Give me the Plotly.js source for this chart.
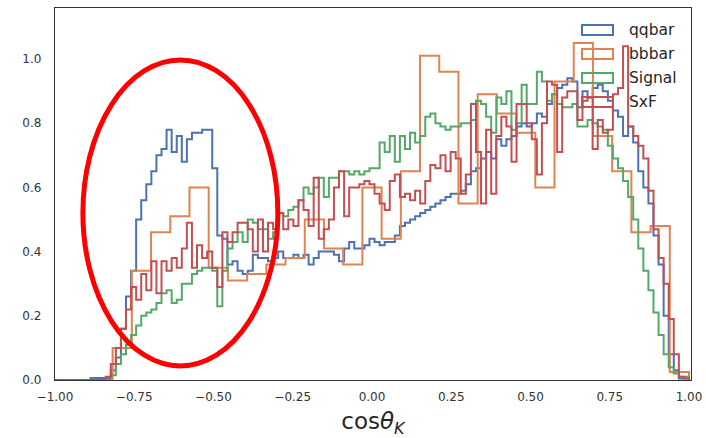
<!DOCTYPE html>
<html><head><meta charset="utf-8">
<script src="https://cdn.plot.ly/plotly-3.0.1.min.js"></script>
<style>html,body{margin:0;padding:0;background:#fff;}#chart{width:706px;height:438px;}</style>
</head><body><div id="chart"></div>
<script>
// ---- data (bin heights, normalized) ----
const seriesNames = ['qqbar', 'bbbar', 'Signal', 'SxF'];
const fineRange = [-1, 1];   // 125 bins for qqbar / Signal / SxF
const coarseRange = [-1, 1]; // 33 bins for bbbar

const qqbar = [
  0,0,0,0,0,0,0,
  0.006,0.006,0.006,0.006,
  0.03,0.07,0.16,0.26,0.34,0.50,0.56,0.61,0.65,0.70,
  0.72,0.78,0.71,0.76,0.68,0.75,0.77,0.77,0.78,0.78,
  0.66,0.45,0.44,0.36,0.37,0.34,0.33,0.34,0.39,0.38,
  0.38,0.37,0.38,0.40,0.38,0.38,0.39,0.38,0.39,0.36,
  0.38,0.40,0.40,0.40,0.39,0.37,0.41,0.43,0.41,0.41,
  0.42,0.44,0.43,0.42,0.43,0.43,0.45,0.48,0.49,0.50,
  0.51,0.52,0.53,0.54,0.55,0.56,0.57,0.58,0.58,0.59,
  0.61,0.65,0.66,0.69,0.71,0.69,0.75,0.73,0.75,0.76,
  0.79,0.80,0.79,0.80,0.83,0.82,0.86,0.89,0.91,0.92,
  0.94,0.93,0.85,0.90,0.88,0.91,0.92,0.90,0.87,0.84,
  0.82,0.76,0.79,0.74,0.65,0.60,0.55,0.45,0.36,0.20,
  0.08,0.03,0.005,0.005
];

const bbbar = [
  0,0,0,0.10,0.34,0.46,0.51,0.60,0.35,0.31,
  0.33,0.36,0.38,0.50,0.41,0.36,0.60,0.44,0.65,1.01,
  0.96,0.55,0.89,0.83,0.77,0.60,0.93,1.05,0.76,0.65,
  0.46,0.48,0.025
];

const signal = [
  0,0,0,0,0,0,0,0,0,0,0,
  0.015,0.05,0.08,0.11,0.14,0.17,0.20,0.21,0.22,0.24,
  0.27,0.28,0.24,0.25,0.30,0.30,0.33,0.34,0.35,0.35,
  0.34,0.23,0.34,0.41,0.43,0.46,0.43,0.50,0.49,0.47,
  0.47,0.44,0.46,0.52,0.51,0.53,0.54,0.56,0.60,0.58,
  0.60,0.63,0.57,0.63,0.63,0.65,0.65,0.64,0.65,0.64,
  0.65,0.66,0.66,0.74,0.71,0.76,0.68,0.76,0.72,0.77,
  0.74,0.76,0.82,0.83,0.80,0.79,0.78,0.79,0.79,0.80,
  0.80,0.81,0.87,0.86,0.82,0.77,0.88,0.86,0.90,0.78,
  0.80,0.92,0.86,0.86,0.96,0.93,0.87,0.89,0.86,0.85,
  0.85,0.86,0.79,0.79,0.81,0.80,0.79,0.78,0.73,0.69,
  0.66,0.62,0.57,0.50,0.41,0.34,0.28,0.21,0.14,0.08,
  0.04,0.02,0.01,0.01
];

const sxf = [
  0,0,0,0,0,0,0,0,0,0,
  0.01,
  0.05,0.10,0.16,0.22,0.29,0.25,0.33,0.28,0.37,0.27,
  0.37,0.34,0.38,0.35,0.41,0.49,0.35,0.42,0.38,0.40,
  0.35,0.29,0.46,0.43,0.46,0.49,0.49,0.47,0.40,0.50,
  0.40,0.49,0.47,0.52,0.47,0.50,0.48,0.56,0.53,0.48,
  0.63,0.44,0.47,0.50,0.60,0.65,0.51,0.60,0.60,0.61,
  0.62,0.61,0.58,0.55,0.53,0.62,0.64,0.57,0.58,0.56,
  0.59,0.55,0.62,0.67,0.66,0.70,0.65,0.71,0.69,0.58,
  0.64,0.86,0.71,0.55,0.78,0.58,0.76,0.82,0.79,0.68,
  0.86,0.86,0.80,0.75,0.64,0.80,0.93,0.92,0.71,0.88,
  0.90,0.90,0.81,0.87,0.88,0.72,0.81,0.77,0.78,0.89,
  0.91,1.04,0.79,0.76,0.73,0.69,0.59,0.47,0.38,0.30,
  0.19,0.08,0.01,0.005
];

const xTicks = [-1, -0.75, -0.5, -0.25, 0, 0.25, 0.5, 0.75, 1];
const yTicks = [0, 0.2, 0.4, 0.6, 0.8, 1.0];

// ---- helpers ----
function stepOutline(vals, range) {
  const n = vals.length, lo = range[0], hi = range[1], w = (hi - lo) / n;
  const xs = [lo], ys = [0];
  for (let i = 0; i < n; i++) { xs.push(lo + i * w); ys.push(vals[i]); }
  xs.push(hi); ys.push(vals[n - 1]);
  xs.push(hi); ys.push(0);
  return {xs, ys};
}

const colors = ['#4C72B0', '#DD8452', '#55A868', '#C44E52'];
const seriesData = [[qqbar, fineRange], [bbbar, coarseRange], [signal, fineRange], [sxf, fineRange]];

const traces = seriesData.map((d, i) => {
  const s = stepOutline(d[0], d[1]);
  return {
    type: 'scatter', mode: 'lines', x: s.xs, y: s.ys, name: seriesNames[i],
    line: {shape: 'hv', color: colors[i], width: 2}, showlegend: false, hoverinfo: 'skip'
  };
});

// plot-area geometry in pixels (for the hand-made legend)
const W = 706, H = 438, L = 55, R = 15, T = 8, B = 58;
const pw = W - L - R, ph = H - T - B;
const px2paperX = p => (p - L) / pw;
const py2paperY = p => (H - B - p) / ph;

const shapes = [];
const annotations = [];
const legendRowY = [30, 54, 78, 102];
seriesNames.forEach((nm, i) => {
  shapes.push({
    type: 'rect', xref: 'paper', yref: 'paper',
    x0: px2paperX(582), x1: px2paperX(613),
    y0: py2paperY(legendRowY[i] + 5), y1: py2paperY(legendRowY[i] - 5),
    line: {color: colors[i], width: 2}, fillcolor: 'rgba(0,0,0,0)'
  });
  annotations.push({
    xref: 'paper', yref: 'paper', x: px2paperX(628), y: py2paperY(legendRowY[i]),
    xanchor: 'left', yanchor: 'middle', align: 'left', showarrow: false, text: nm,
    width: 62, height: 20, borderpad: 0,
    font: {family: 'DejaVu Sans', size: 15.5, color: '#262626'}
  });
});

// red highlight ellipse (in data coordinates)
shapes.push({
  type: 'circle', xref: 'x', yref: 'y',
  x0: -0.912, x1: -0.297, y0: 0.044, y1: 0.997,
  line: {color: '#FF0000', width: 5}, fillcolor: 'rgba(0,0,0,0)'
});

const layout = {
  width: W, height: H,
  margin: {l: L, r: R, t: T, b: B},
  paper_bgcolor: '#ffffff', plot_bgcolor: '#ffffff',
  font: {family: 'DejaVu Sans', color: '#333333'},
  showlegend: false,
  xaxis: {
    range: [-1, 1.0063], tickvals: xTicks, tickformat: '.2f',
    showline: true, mirror: true, linecolor: '#333333', linewidth: 1.2,
    showgrid: false, zeroline: false,
    ticks: 'outside', ticklen: 5, tickcolor: 'rgba(0,0,0,0)',
    tickfont: {family: 'DejaVu Sans', size: 12, color: '#333333'},
    title: {text: 'cos<i>θ</i><sub><i>K</i></sub>', font: {family: 'DejaVu Sans', size: 23, color: '#262626'}, standoff: 14}
  },
  yaxis: {
    range: [0, 1.159], tickvals: yTicks, tickformat: '.1f',
    showline: true, mirror: true, linecolor: '#333333', linewidth: 1.2,
    showgrid: false, zeroline: false,
    ticks: 'outside', ticklen: 10, tickcolor: 'rgba(0,0,0,0)',
    tickfont: {family: 'DejaVu Sans', size: 12, color: '#333333'}
  },
  shapes: shapes,
  annotations: annotations
};

Plotly.newPlot('chart', traces, layout, {displayModeBar: false, staticPlot: true});
</script>
</body></html>
